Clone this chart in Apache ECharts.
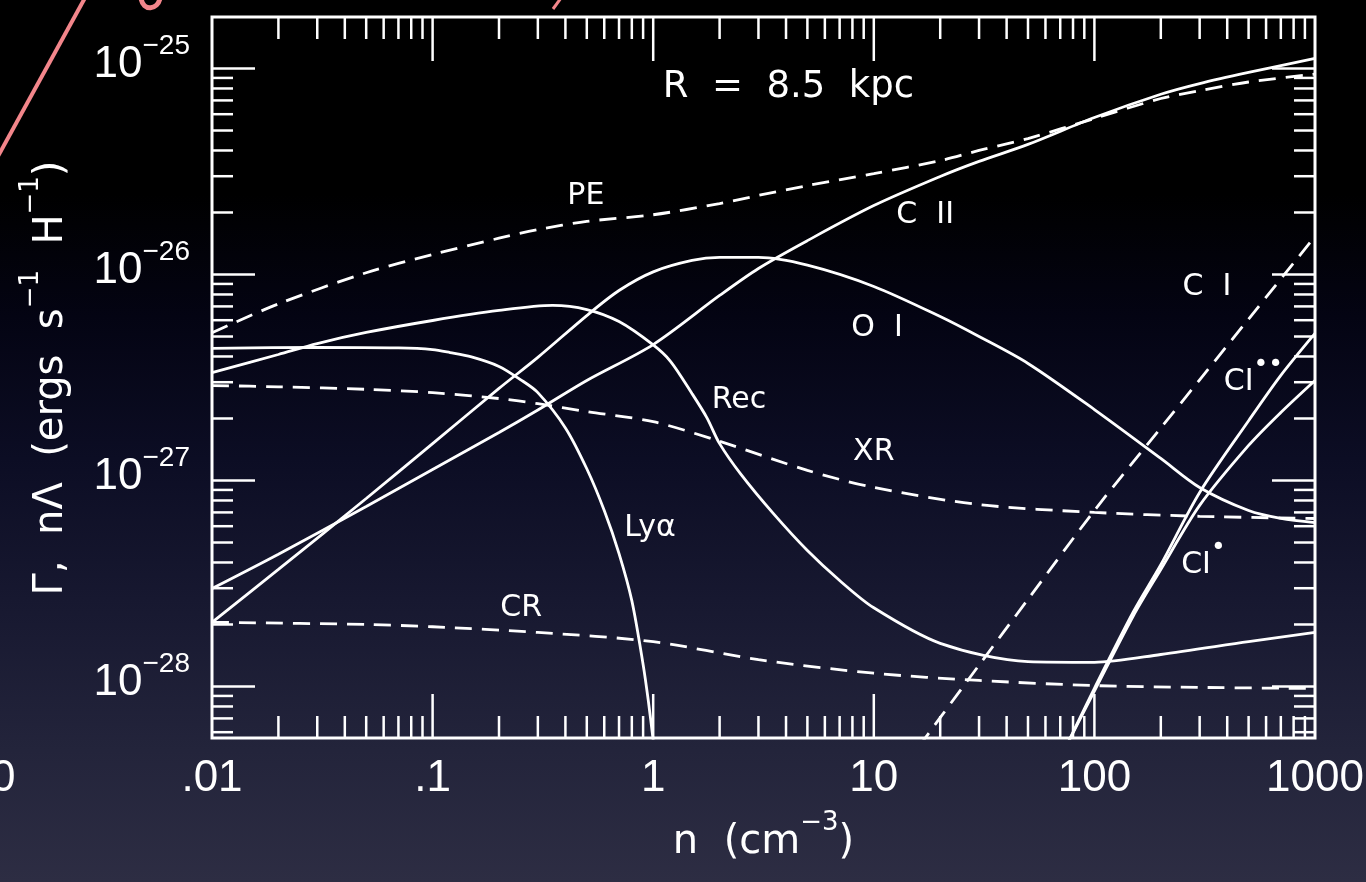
<!DOCTYPE html>
<html>
<head>
<meta charset="utf-8">
<script src="https://cdn.jsdelivr.net/npm/echarts@6/dist/echarts.min.js"></script>
<style>
  html, body { margin: 0; padding: 0; width: 1366px; height: 882px; overflow: hidden;
    background: linear-gradient(to bottom, #000000 0%, #000000 22%, #040413 36%, #0c0d24 52%, #171830 68%, #23243b 85%, #2d2d43 100%); }
  #chart { width: 1366px; height: 882px; }
</style>
</head>
<body>
<div id="chart"></div>
<script>
// Heating (Γ) and cooling (nΛ) rates per H atom versus density, R = 8.5 kpc

// ---- axis ranges and tick labels ----
const X_MIN = 0.01, X_MAX = 1000;
const Y_MIN = Math.pow(10, -28.25), Y_MAX = Math.pow(10, -24.75);
const xTickExponents = [-2, -1, 0, 1, 2, 3];
const xTickLabels = ['.01', '.1', '1', '10', '100', '1000'];
const yTickExponents = [-28, -27, -26, -25];
const yTickLabels = ['\u221228', '\u221227', '\u221226', '\u221225'];

// ---- heating terms (dashed) ----
const nPE = [0.01, 0.02, 0.05, 0.1, 0.2, 0.3, 0.5, 1, 2, 3, 5, 10, 20, 30, 50, 100, 200, 300, 500, 1000];
const vPE = [5.22e-27, 7.2e-27, 1.02e-26, 1.25e-26, 1.50e-26, 1.65e-26, 1.81e-26, 1.95e-26, 2.21e-26, 2.42e-26,
             2.70e-26, 3.09e-26, 3.57e-26, 4.0e-26, 4.57e-26, 5.72e-26, 7.15e-26, 7.8e-26, 8.6e-26, 9.4e-26];

const nXR = [0.01, 0.02, 0.05, 0.1, 0.2, 0.3, 0.5, 1, 2, 5, 10, 30, 100, 300, 1000];
const vXR = [2.89e-27, 2.85e-27, 2.77e-27, 2.67e-27, 2.50e-27, 2.36e-27, 2.16e-27, 1.93e-27, 1.55e-27,
             1.12e-27, 9.25e-28, 7.64e-28, 7.0e-28, 6.7e-28, 6.54e-28];

const nCR = [0.01, 0.05, 0.1, 0.3, 1, 3, 10, 30, 100, 300, 1000];
const vCR = [2.05e-28, 2.0e-28, 1.95e-28, 1.83e-28, 1.65e-28, 1.35e-28, 1.16e-28, 1.07e-28, 1.01e-28, 9.9e-29, 9.78e-29];

// ---- cooling terms ----
const nCII = [0.01, 0.02, 0.05, 0.1, 0.2, 0.3, 0.5, 1, 2, 3, 5, 10, 20, 30, 50, 100, 200, 300, 500, 1000];
const vCII = [2.99e-28, 4.39e-28, 7.48e-28, 1.13e-27, 1.71e-27, 2.2e-27, 3.06e-27, 4.57e-27, 7.91e-27, 1.07e-26,
              1.46e-26, 2.16e-26, 2.99e-26, 3.54e-26, 4.28e-26, 5.78e-26, 7.5e-26, 8.45e-26, 9.57e-26, 1.12e-25];

const nOI = [0.01, 0.02, 0.05, 0.1, 0.2, 0.3, 0.5, 0.7, 1, 1.5, 2, 3, 5, 10, 20, 30, 50, 100, 200, 300, 500, 700, 1000];
const vOI = [2.05e-28, 3.70e-28, 8.18e-28, 1.51e-27, 2.80e-27, 3.96e-27, 6.32e-27, 8.36e-27, 1.03e-26, 1.17e-26,
             1.21e-26, 1.21e-26, 1.11e-26, 8.75e-27, 6.25e-27, 5.0e-27, 3.70e-27, 2.21e-27, 1.28e-27, 9.25e-28,
             7.15e-28, 6.55e-28, 6.25e-28];

const nRec = [0.01, 0.02, 0.03, 0.05, 0.1, 0.2, 0.35, 0.5, 0.7, 1, 1.2, 1.5, 1.75, 2, 2.5, 3.5, 5, 7, 10, 20, 50, 100, 200, 500, 1000];
const vRec = [3.34e-27, 4.09e-27, 4.62e-27, 5.23e-27, 5.98e-27, 6.69e-27, 7.08e-27, 6.76e-27, 5.91e-27, 4.55e-27,
              3.78e-27, 2.64e-27, 2.02e-27, 1.51e-27, 1.07e-27, 6.92e-28, 4.57e-28, 3.27e-28, 2.41e-28, 1.62e-28,
              1.32e-28, 1.31e-28, 1.43e-28, 1.65e-28, 1.83e-28];

const nLya = [0.01, 0.03, 0.07, 0.1, 0.12, 0.15, 0.2, 0.25, 0.3, 0.4, 0.5, 0.6, 0.7, 0.8, 0.9, 0.95, 1.0, 1.05];
const vLya = [4.38e-27, 4.43e-27, 4.40e-27, 4.32e-27, 4.18e-27, 3.98e-27, 3.58e-27, 3.09e-27, 2.67e-27, 1.80e-27,
              1.14e-27, 7.15e-28, 4.42e-28, 2.61e-28, 1.28e-28, 8.55e-29, 5.47e-29, 3.5e-29];

const nCI = [16, 20, 30, 50, 100, 200, 300, 500, 1000];
const vCI = [5.1e-29, 7.06e-29, 1.27e-28, 2.65e-28, 7.15e-28, 1.80e-27, 3.08e-27, 6.08e-27, 1.53e-26];

const nCIss = [75, 100, 150, 200, 300, 500, 700, 1000];
const vCIss = [5.2e-29, 9.8e-29, 2.3e-28, 3.9e-28, 8.75e-28, 1.95e-27, 3.24e-27, 5.18e-27];

const nCIs = [75, 100, 150, 200, 300, 500, 700, 1000];
const vCIs = [5.2e-29, 9.5e-29, 2.2e-28, 3.7e-28, 7.57e-28, 1.48e-27, 2.14e-27, 3.06e-27];

// ---- curve annotations (anchored in data space) ----
const noteText = ['R  =  8.5  kpc', 'PE', 'C  II', 'O  I', 'Rec', 'XR', 'Ly\u03b1', 'CR', 'C  I', 'CI\u2022\u2022', 'CI\u2022'];
const noteN    = [4.1, 0.495, 17.1, 10.35, 2.45, 10.0, 0.967, 0.252, 324, 526, 312];
const noteV    = [8.09e-26, 2.39e-26, 1.93e-26, 5.47e-27, 2.44e-27, 1.37e-27, 5.85e-28, 2.41e-28, 8.65e-27, 3.25e-27, 4.21e-28];

// ---- minor / major tick positions (2..9 per decade) ----
function decadeTicks(lo, hi, kLo, kHi) {
  const out = [];
  for (let k = kLo; k <= kHi; k++) {
    for (let m = 2; m <= 9; m++) {
      const v = m * Math.pow(10, k);
      if (v > lo * 1.0001 && v < hi * 0.9999) out.push(v);
    }
  }
  return out;
}
const xMinor = decadeTicks(X_MIN, X_MAX, -2, 2);
const xMajor = [0.1, 1, 10, 100];
const yMinor = decadeTicks(Y_MIN, Y_MAX, -29, -26);
const yMajor = [1e-28, 1e-27, 1e-26, 1e-25];

const tickData = []
  .concat(xMajor.map(v => [v, Y_MIN, 0]))
  .concat(xMinor.map(v => [v, Y_MIN, 1]))
  .concat(yMajor.map(v => [X_MIN, v, 2]))
  .concat(yMinor.map(v => [X_MIN, v, 3]));

const WHITE = '#ffffff';
const FONT_NUM = 'Liberation Sans, Arial, sans-serif';
const FONT_TXT = 'DejaVu Sans, sans-serif';

function pairs(xs, ys) { return xs.map((x, i) => [x, ys[i]]); }

function curve(name, xs, ys, dashed) {
  return {
    type: 'line', name: name, data: pairs(xs, ys),
    showSymbol: false, symbol: 'none', smooth: 0.3, clip: true, silent: true,
    lineStyle: { color: WHITE, width: 2.8, type: dashed ? [17, 10] : 'solid', cap: 'butt' },
    z: 3
  };
}

function expIndex(v) { return Math.round(Math.log10(v)); }
function isPow10(v) { const e = Math.log10(v); return Math.abs(e - Math.round(e)) < 1e-6; }

const supRich = {
  b: { color: WHITE, fontFamily: FONT_TXT, fontSize: 40, verticalAlign: 'bottom' },
  s: { color: WHITE, fontFamily: FONT_TXT, fontSize: 26, verticalAlign: 'bottom', padding: [0, 0, 27, 0] }
};

const chart = echarts.init(document.getElementById('chart'), null, { renderer: 'canvas' });

chart.setOption({
  animation: false,
  backgroundColor: 'transparent',
  grid: { left: 212, right: 51, top: 17, bottom: 144, show: true, borderColor: WHITE, borderWidth: 3,
          backgroundColor: 'transparent', containLabel: false, outerBoundsMode: 'none' },
  xAxis: {
    type: 'log', logBase: 10, min: X_MIN, max: X_MAX,
    axisLine: { show: false }, axisTick: { show: false }, splitLine: { show: false }, minorTick: { show: false },
    axisLabel: {
      color: WHITE, fontFamily: FONT_NUM, fontSize: 44, margin: 19,
      showMinLabel: true, showMaxLabel: true, hideOverlap: false,
      formatter: function (v) {
        if (!isPow10(v)) return '';
        const i = xTickExponents.indexOf(expIndex(v));
        return i >= 0 ? xTickLabels[i] : '';
      }
    },
    name: '{b|n  (cm}{s|\u22123}{b|)}', nameLocation: 'middle', nameGap: 72,
    nameTextStyle: { color: WHITE, fontFamily: FONT_TXT, fontSize: 40, rich: supRich }
  },
  yAxis: {
    type: 'log', logBase: 10, min: Y_MIN, max: Y_MAX,
    axisLine: { show: false }, axisTick: { show: false }, splitLine: { show: false }, minorTick: { show: false },
    axisLabel: {
      color: WHITE, margin: 22, showMinLabel: true, showMaxLabel: true, hideOverlap: false,
      padding: [0, 0, 18, 0],
      formatter: function (v) {
        if (!isPow10(v)) return '';
        const i = yTickExponents.indexOf(expIndex(v));
        return i >= 0 ? '{b|10}{s|' + yTickLabels[i] + '}' : '';
      },
      rich: {
        b: { color: WHITE, fontFamily: FONT_NUM, fontSize: 44, verticalAlign: 'bottom' },
        s: { color: WHITE, fontFamily: FONT_NUM, fontSize: 28, verticalAlign: 'bottom', padding: [0, 0, 27, 0] }
      }
    }
  },
  series: [
    curve('PE', nPE, vPE, true),
    curve('XR', nXR, vXR, true),
    curve('CR', nCR, vCR, true),
    curve('C I', nCI, vCI, true),
    curve('C II', nCII, vCII, false),
    curve('O I', nOI, vOI, false),
    curve('Rec', nRec, vRec, false),
    curve('Lya', nLya, vLya, false),
    curve('CI**', nCIss, vCIss, false),
    curve('CI*', nCIs, vCIs, false),
    {
      // inward ticks on all four sides of the frame
      type: 'custom', name: 'ticks', data: tickData, silent: true, clip: false, z: 4,
      renderItem: function (params, api) {
        const kind = api.value(2);
        const style = { stroke: WHITE, lineWidth: 2.5, fill: null };
        if (kind < 2) {
          const xv = api.value(0);
          const b = api.coord([xv, Y_MIN]);
          const t = api.coord([xv, Y_MAX]);
          const len = kind === 0 ? 44 : 22;
          return { type: 'group', children: [
            { type: 'line', shape: { x1: b[0], y1: b[1], x2: b[0], y2: b[1] - len }, style: style },
            { type: 'line', shape: { x1: t[0], y1: t[1], x2: t[0], y2: t[1] + len }, style: style }
          ] };
        }
        const yv = api.value(1);
        const l = api.coord([X_MIN, yv]);
        const r = api.coord([X_MAX, yv]);
        const len = kind === 2 ? 43 : 21;
        return { type: 'group', children: [
          { type: 'line', shape: { x1: l[0], y1: l[1], x2: l[0] + len, y2: l[1] }, style: style },
          { type: 'line', shape: { x1: r[0], y1: r[1], x2: r[0] - len, y2: r[1] }, style: style }
        ] };
      }
    },
    {
      // curve names and the galactocentric radius
      type: 'scatter', name: 'notes', symbolSize: 0, silent: true, z: 5,
      itemStyle: { opacity: 1 },
      data: noteText.map((t, i) => ({
        name: t, value: [noteN[i], noteV[i]],
        label: i === 0 ? { fontSize: 37 } : undefined
      })),
      label: {
        show: true, position: 'inside', color: WHITE, opacity: 1, fontFamily: FONT_TXT, fontSize: 30,
        formatter: function (p) {
          const m = p.name.match(/^(CI)(\u2022+)$/);
          return m ? '{t|' + m[1] + '}{d|' + m[2] + '}' : p.name;
        },
        rich: {
          t: { color: WHITE, fontFamily: FONT_TXT, fontSize: 30, verticalAlign: 'bottom' },
          d: { color: WHITE, fontFamily: FONT_TXT, fontSize: 25, verticalAlign: 'bottom', padding: [0, 0, 19, 0] }
        }
      }
    }
  ],
  graphic: [
    // vertical axis title
    { type: 'text', silent: true, x: 45, y: 378, rotation: Math.PI / 2,
      style: { text: '{b|\u0393,  n\u039b  (ergs  s}{s|\u22121}{b|  H}{s|\u22121}{b|)}',
               fill: WHITE, font: '40px "DejaVu Sans", sans-serif', align: 'center', verticalAlign: 'middle',
               rich: supRich } },
    // hand-drawn pink strokes along the upper edge
    { type: 'polyline', silent: true, shape: { points: [[-3, 158], [86, -4]] },
      style: { stroke: '#f3868b', lineWidth: 4, fill: null } },
    { type: 'bezierCurve', silent: true, shape: { x1: 141, y1: -2, cpx1: 143, cpy1: 12, cpx2: 158, cpy2: 10, x2: 160, y2: -2 },
      style: { stroke: '#f3868b', lineWidth: 5, fill: null } },
    { type: 'polyline', silent: true, shape: { points: [[553, 9], [561, -2]] },
      style: { stroke: '#f3868b', lineWidth: 3, fill: null } },
    // edge of a neighbouring tick label
    { type: 'text', silent: true, left: -9, top: 757,
      style: { text: '0', fill: WHITE, font: '44px "Liberation Sans", Arial, sans-serif' } }
  ]
});
</script>
</body>
</html>
